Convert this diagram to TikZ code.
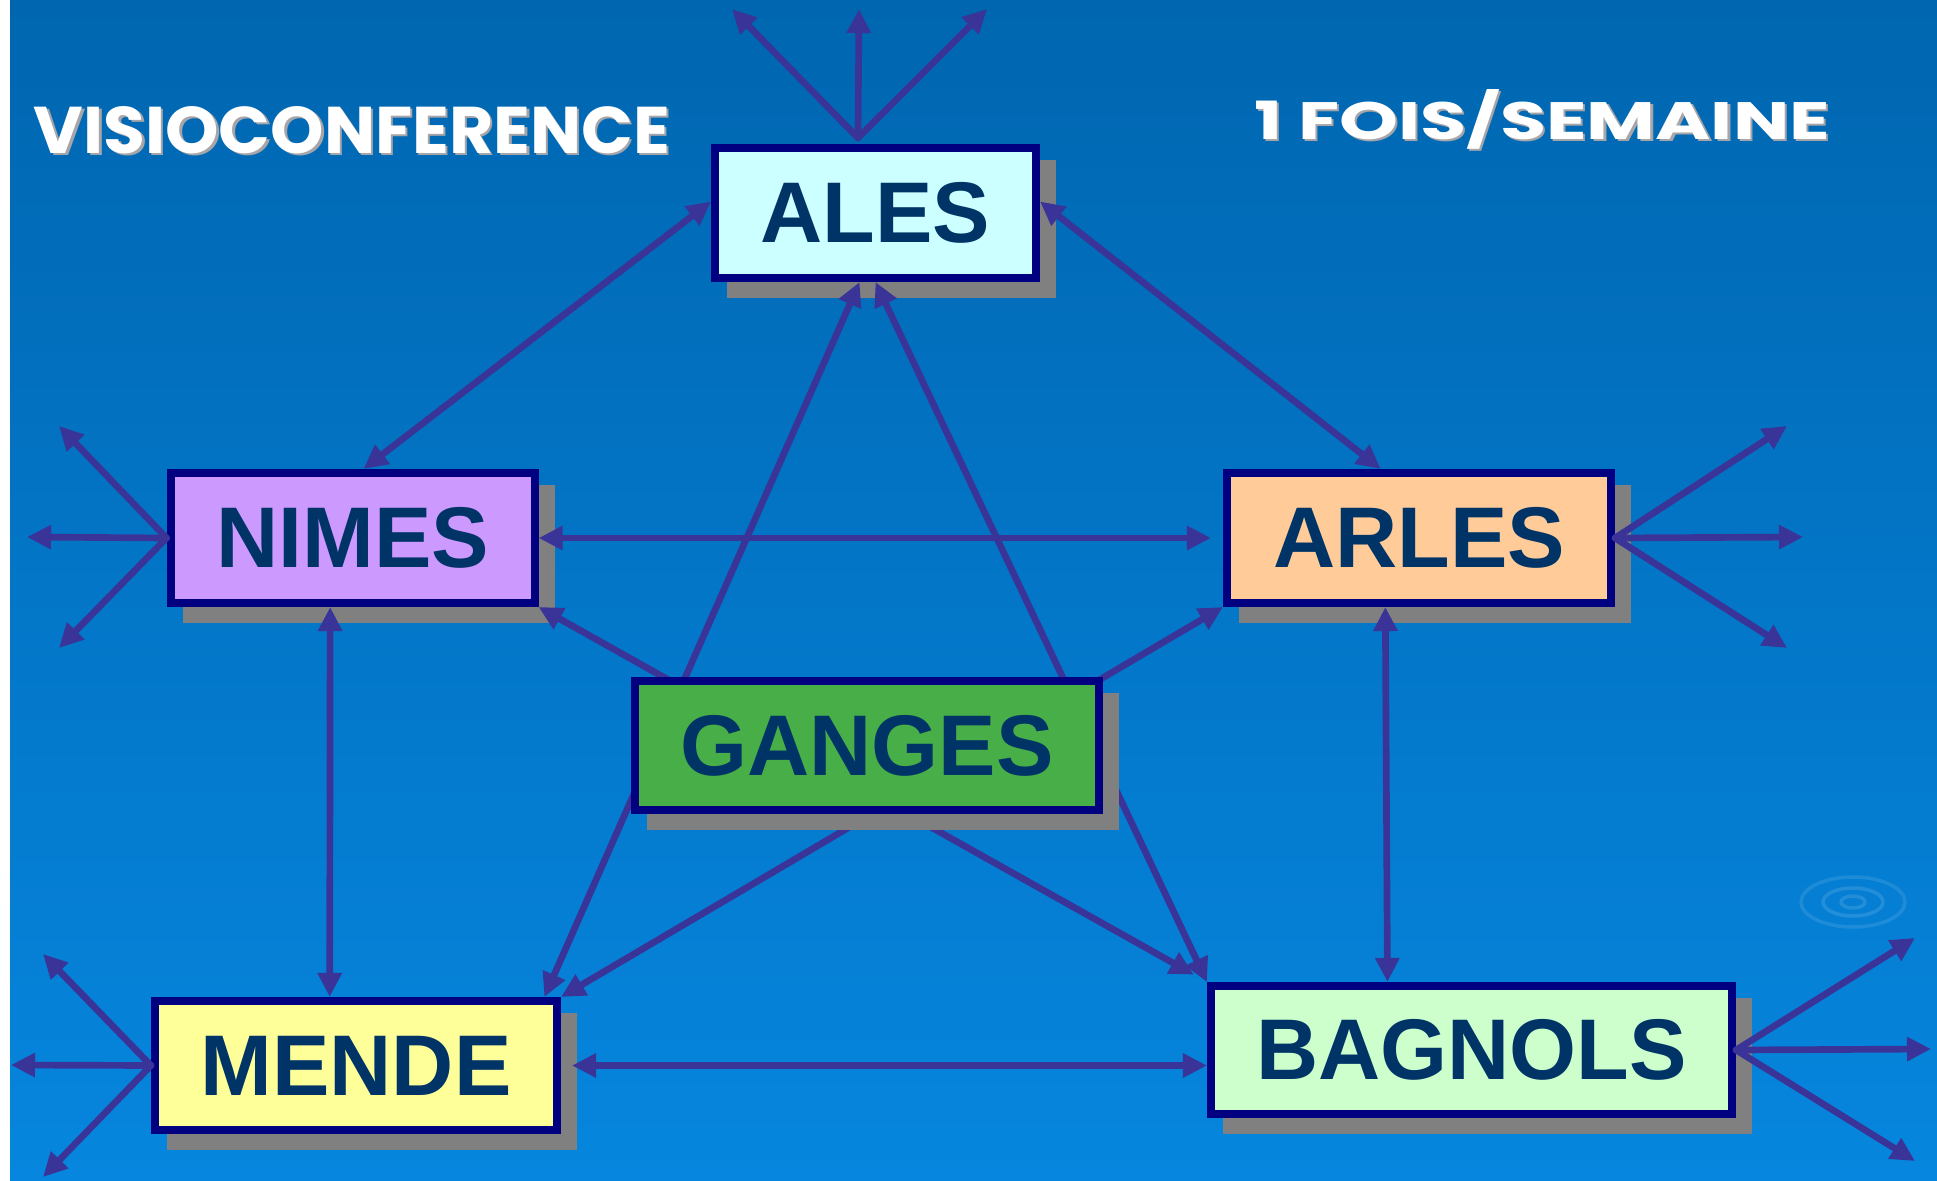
\documentclass[tikz,border=0pt]{standalone}
\usepackage{fontspec}
\usepackage{graphicx}
\usetikzlibrary{arrows.meta}
\newfontfamily\labelfont{Liberation Sans}
\newfontfamily\headfont{Poppins}
\definecolor{bgtop}{RGB}{0,102,176}
\definecolor{bgmid}{RGB}{0,110,188}
\definecolor{bgbot}{RGB}{6,134,222}
\definecolor{arrowblue}{RGB}{58,52,152}
\definecolor{boxborder}{RGB}{0,0,128}
\definecolor{labelblue}{RGB}{0,51,102}
\definecolor{shadowgray}{RGB}{128,128,128}
\definecolor{headshadow}{RGB}{165,165,170}
\definecolor{alesfill}{RGB}{204,255,255}
\definecolor{nimesfill}{RGB}{204,153,255}
\definecolor{arlesfill}{RGB}{255,204,153}
\definecolor{gangesfill}{RGB}{72,174,72}
\definecolor{mendefill}{RGB}{255,255,153}
\definecolor{bagnolsfill}{RGB}{204,255,204}
\begin{document}
\begin{tikzpicture}[line cap=round,line join=round,>={Triangle[length=0.24cm,width=0.23cm]},x=1.0cm,y=1.0cm,
  city/.style={draw=boxborder,line width=2.3pt,line join=miter,minimum height=1.30cm,inner sep=0pt,
    text=labelblue,font=\labelfont\bfseries\fontsize{24.5}{29}\selectfont,
    preaction={draw=shadowgray,fill=shadowgray,transform canvas={xshift=0.16cm,yshift=-0.16cm}}},
  link/.style={<->,color=arrowblue,line width=1.9pt},
  fan/.style={->,color=arrowblue,line width=1.9pt},
  head/.style={font=\headfont\bfseries,inner sep=0pt}]
\useasboundingbox (0,0) rectangle (19.37,11.8);
\fill[white] (0,0) rectangle (19.37,11.8);
\shade[top color=bgtop,middle color=bgmid,bottom color=bgbot] (0.10,0) rectangle (19.37,11.8);
\draw[white,opacity=0.12,line width=1pt] (18.53,2.78) ellipse (0.12 and 0.06);
\draw[white,opacity=0.12,line width=1pt] (18.53,2.78) ellipse (0.30 and 0.14);
\draw[white,opacity=0.10,line width=1pt] (18.53,2.78) ellipse (0.52 and 0.25);

\node[head,text=headshadow] (visioshadow) at (3.545,10.475) {\resizebox{6.36cm}{0.47cm}{VISIOCONFERENCE}};
\node[head,text=white] (visio) at (3.52,10.50) {\resizebox{6.36cm}{0.47cm}{VISIOCONFERENCE}};
\node[head,text=headshadow] (foisshadow) at (15.445,10.585) {\resizebox{5.76cm}{0.50cm}{1 FOIS/SEMAINE}};
\node[head,text=white] (fois) at (15.42,10.61) {\resizebox{5.76cm}{0.50cm}{1 FOIS/SEMAINE}};

\node[city,fill=alesfill,minimum width=3.21cm] (ales) at (8.755,9.67) {ALES};
\node[city,fill=nimesfill,minimum width=3.64cm] (nimes) at (3.526,6.42) {NIMES};
\node[city,fill=arlesfill,minimum width=3.84cm] (arles) at (14.19,6.42) {ARLES};
\node[city,fill=mendefill,minimum width=4.02cm,minimum height=1.29cm] (mende) at (3.56,1.145) {MENDE};
\node[city,fill=bagnolsfill,minimum width=5.21cm,minimum height=1.28cm] (bagnols) at (14.715,1.30) {BAGNOLS};

\draw [link] (ales.176) -- (nimes.81);
\draw [link] (ales.4) -- (arles.119);
\draw [link] (ales.257) -- (mende.20);
\draw [link] (ales.south) -- (bagnols.north west);
\draw [link,shorten >=0.12cm] (nimes.east) -- (arles.west);
\draw [link] (nimes.252) -- (mende.111);
\draw [link,shorten >=0.15cm] (nimes.south east) -- (bagnols.north west);
\draw [link] (arles.south west) -- (mende.north east);
\draw [link] (arles.244) -- (bagnols.141);
\draw [link,shorten <=0.11cm] (mende.east) -- (mende.east -| bagnols.west);

\coordinate (alesupleft) at (7.32,11.71);
\coordinate (alesup) at (8.59,11.71);
\coordinate (alesupright) at (9.87,11.71);
\coordinate (nimesupleft) at (0.59,7.54);
\coordinate (nimesleft) at (0.27,6.43);
\coordinate (nimesdownleft) at (0.59,5.32);
\coordinate (arlesupright) at (17.87,7.54);
\coordinate (arlesright) at (18.03,6.43);
\coordinate (arlesdownright) at (17.87,5.32);
\coordinate (mendeupleft) at (0.43,2.26);
\coordinate (mendeleft) at (0.11,1.15);
\coordinate (mendedownleft) at (0.43,0.03);
\coordinate (bagnolsupright) at (19.15,2.42);
\coordinate (bagnolsright) at (19.31,1.31);
\coordinate (bagnolsdownright) at (19.15,0.19);
\draw [fan] ([xshift=-0.175cm,yshift=0.06cm]ales.north) -- (alesupleft);
\draw [fan] ([xshift=-0.175cm,yshift=0.06cm]ales.north) -- (alesup);
\draw [fan] ([xshift=-0.175cm,yshift=0.06cm]ales.north) -- (alesupright);
\draw [fan] (nimes.west) -- (nimesupleft);
\draw [fan] (nimes.west) -- (nimesleft);
\draw [fan] (nimes.west) -- (nimesdownleft);
\draw [fan] (arles.east) -- (arlesupright);
\draw [fan] (arles.east) -- (arlesright);
\draw [fan] (arles.east) -- (arlesdownright);
\draw [fan] (mende.west) -- (mendeupleft);
\draw [fan] (mende.west) -- (mendeleft);
\draw [fan] (mende.west) -- (mendedownleft);
\draw [fan] (bagnols.east) -- (bagnolsupright);
\draw [fan] (bagnols.east) -- (bagnolsright);
\draw [fan] (bagnols.east) -- (bagnolsdownright);

\node[city,fill=gangesfill,minimum width=4.64cm,minimum height=1.29cm] (ganges) at (8.67,4.345) {GANGES};
\end{tikzpicture}
\end{document}
